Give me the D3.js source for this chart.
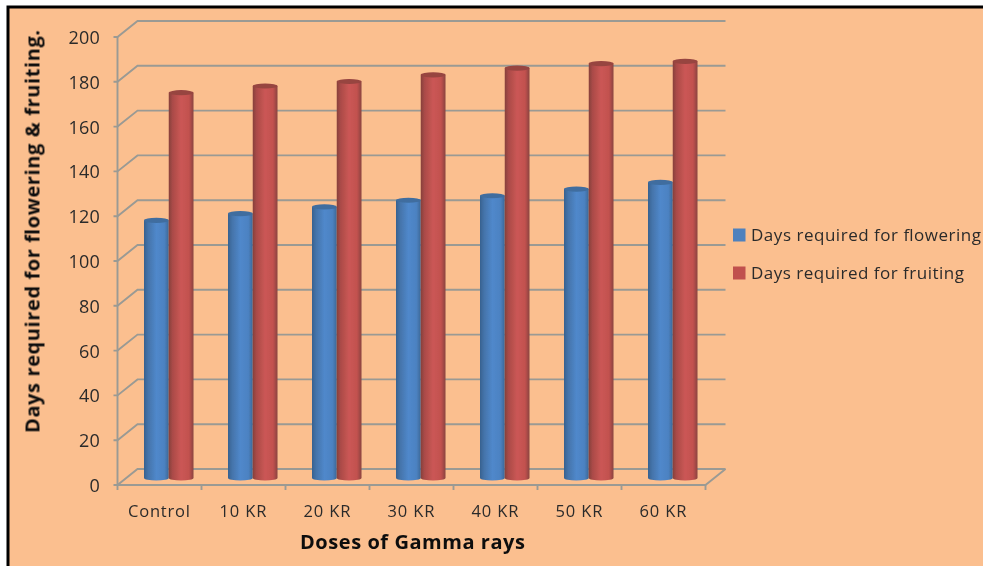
<!DOCTYPE html>
<html><head><meta charset="utf-8">
<script src="https://cdn.jsdelivr.net/npm/d3@7"></script>
<style>html,body{margin:0;padding:0;background:#fff}svg{display:block}text{font-family:"Open Sans",Lato,sans-serif}</style>
</head><body><div id="chart"></div>
<script>
const categories = ["Control","10 KR","20 KR","30 KR","40 KR","50 KR","60 KR"];
const flowering = [115,118,121,124,126,129,132];
const fruiting = [172,175,177,180,183,185,186];
const seriesNames = ["Days required for flowering","Days required for fruiting"];
const yTicks = [0,20,40,60,80,100,120,140,160,180,200];

const W=983,H=566;
const svg=d3.select("#chart").append("svg").attr("width",W).attr("height",H);
const defs=svg.append("defs");
function grad(id,stops){
  const g=defs.append("linearGradient").attr("id",id).attr("x1",0).attr("x2",1).attr("y1",0).attr("y2",0);
  stops.forEach(s=>g.append("stop").attr("offset",s[0]).attr("stop-color",s[1]));
}
grad("gBlue",[[0,"#37618f"],[.16,"#4473a9"],[.5,"#5088cb"],[.82,"#4c82c2"],[1,"#3d6898"]]);
grad("gRed",[[0,"#86403c"],[.16,"#ab4b48"],[.5,"#cb5755"],[.82,"#c2514f"],[1,"#8a443f"]]);
defs.append("filter").attr("id","softBar").append("feGaussianBlur").attr("stdDeviation",0.6);
defs.append("filter").attr("id","softer").append("feGaussianBlur").attr("stdDeviation",0.4);

// frame
svg.append("rect").attr("x",8).attr("y",7).attr("width",W).attr("height",H)
  .attr("fill","#fbbf8f").attr("stroke","#000").attr("stroke-width",3);

const dx=20,dy=-16;
const y=d3.scaleLinear().domain([0,200]).range([485,37]);
const x=d3.scaleBand().domain(categories).range([117.5,705.5]);
const inner=d3.scaleBand().domain(seriesNames).range([26.5,76]);
const gridCol="#9a9a94";

const plot=svg.append("g").attr("filter","url(#softer)");
const gl=plot.append("g").attr("stroke",gridCol).attr("stroke-width",1.9).attr("fill","none");
yTicks.forEach(t=>{
  const yy=y(t);
  gl.append("path").attr("d",d3.line()([[x.range()[0]-4,yy],[x.range()[0],yy],[x.range()[0]+dx,yy+dy],[x.range()[1]+dx,yy+dy]]));
});
gl.append("path").attr("d",d3.line()([[x.range()[0],y(200)],[x.range()[0],y(0)],[x.range()[1],y(0)],[x.range()[1]+dx,y(0)+dy]]));
categories.forEach(c=>gl.append("path").attr("d",d3.line()([[x(c),y(0)],[x(c),y(0)+5]])));
gl.append("path").attr("d",d3.line()([[x.range()[1],y(0)],[x.range()[1],y(0)+5]]));

// bars
const barBase=-6;
function cyl(g,cx,w,v,fill,top){
  const l=cx,r=cx+w,rx=w/2,ry=2.6;
  const yb=y(0)+barBase, yt=y(v)+barBase-1;
  g.append("path").attr("d",`M${l},${yt}L${l},${yb-1}A${rx},${ry} 0 0 0 ${r},${yb-1}L${r},${yt}Z`).attr("fill",`url(#${fill})`);
  g.append("ellipse").attr("cx",l+rx).attr("cy",yt).attr("rx",rx).attr("ry",ry).attr("fill",top);
}
const bars=svg.append("g").attr("filter","url(#softBar)");
categories.forEach((c,i)=>{
  cyl(bars,x(c)+inner(seriesNames[0]),inner.bandwidth(),flowering[i],"gBlue","#3f6d9f");
  cyl(bars,x(c)+inner(seriesNames[1]),inner.bandwidth(),fruiting[i],"gRed","#974441");
});

// text
const txt=svg.append("g").attr("filter","url(#softer)").attr("fill","#2b2b2b");
yTicks.forEach(t=>txt.append("text").attr("x",100).attr("y",y(t)+7).attr("text-anchor","end").attr("font-size",18).attr("letter-spacing",0.2).text(t));
const catLen=d3.scaleOrdinal().domain(categories).range([62,47,47,47,47,47,47]);
categories.forEach(c=>txt.append("text").attr("x",x(c)+x.bandwidth()/2-0.5).attr("y",517).attr("text-anchor","middle").attr("font-size",16.5).attr("textLength",catLen(c)).attr("lengthAdjust","spacing").text(c));
txt.append("text").attr("x",412.5).attr("y",549).attr("text-anchor","middle").attr("font-size",20).attr("font-weight",700).attr("fill","#111").attr("textLength",225).attr("lengthAdjust","spacing").text("Doses of Gamma rays");
txt.append("text").attr("transform","translate(39.5,231.5) rotate(-90)").attr("text-anchor","middle").attr("font-size",20).attr("font-weight",700).attr("fill","#111").attr("textLength",403).attr("lengthAdjust","spacing").text("Days required for flowering & fruiting.");

// legend
const legY=d3.scalePoint().domain(seriesNames).range([235,273]);
const legCol=d3.scaleOrdinal().domain(seriesNames).range(["#4f81bd","#c0504d"]);
const legLen=d3.scaleOrdinal().domain(seriesNames).range([230,213]);
seriesNames.forEach(s=>{
  svg.append("rect").attr("x",733).attr("y",legY(s)-6.5).attr("width",12.5).attr("height",13).attr("fill",legCol(s));
  txt.append("text").attr("x",751).attr("y",legY(s)+5.5).attr("font-size",17).attr("textLength",legLen(s)).attr("lengthAdjust","spacing").text(s);
});
</script></body></html>
